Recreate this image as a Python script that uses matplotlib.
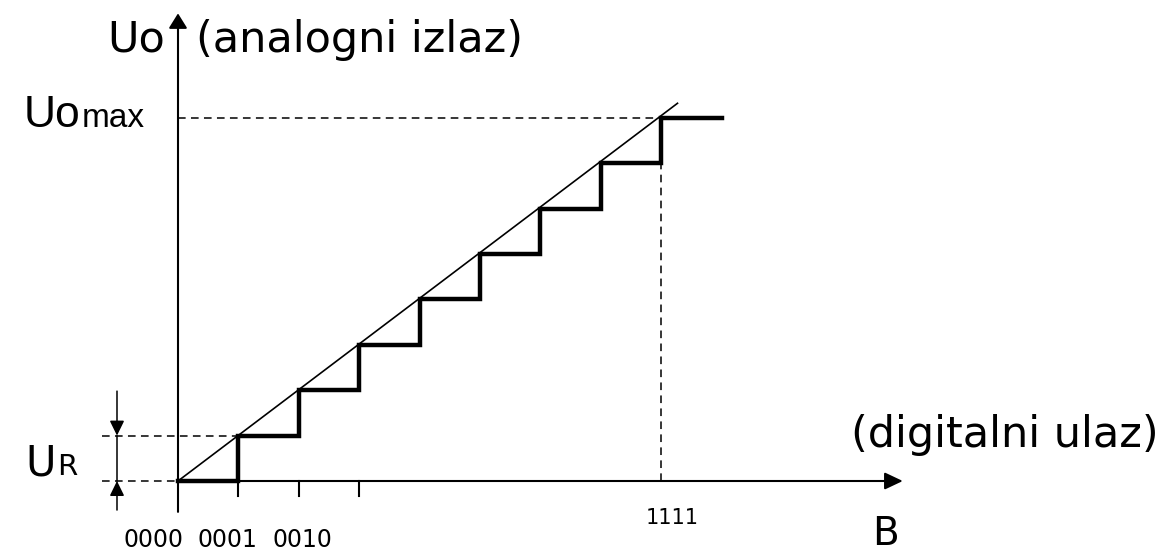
import numpy as np
import matplotlib
matplotlib.use("Agg")
import matplotlib.pyplot as plt

# --- data ---
levels = [0, 1, 2, 3, 4, 5, 6, 7, 8]          # output level per step
tick_steps = [1, 2, 3]                        # small ticks on the B axis
code_labels = ["0000", "0001", "0010"]
last_code = "1111"
last_step = 8
ideal_end = [8.27, 8.32]                      # end of the ideal (thin) line

# pixel -> data mapping of the original drawing
X0, DX = 178, 60.4
Y0, DY = 481, 45.4
W, H = 1164, 552

fig = plt.figure(figsize=(W / 100, H / 100), dpi=100)
ax = fig.add_axes([0, 0, 1, 1])
ax.set_xlim(-X0 / DX, (W - X0) / DX)
ax.set_ylim((Y0 - H) / DY, Y0 / DY)
ax.axis("off")

k = "black"
dash = (0, (5, 3.5))

# axes with arrows
ax.annotate("", xy=(12.0, 0), xytext=(0, 0),
            arrowprops=dict(arrowstyle="-|>,head_length=0.55,head_width=0.26",
                            mutation_scale=20, lw=1.5, color=k, shrinkA=0, shrinkB=0))
ax.annotate("", xy=(0, 10.3), xytext=(0, -0.68),
            arrowprops=dict(arrowstyle="-|>,head_length=0.45,head_width=0.28",
                            mutation_scale=20, lw=1.5, color=k, shrinkA=0, shrinkB=0))
for t in tick_steps:
    ax.plot([t, t], [0, -0.33], color=k, lw=1.5)

# dashed helper lines
ax.plot([0, last_step], [levels[-1], levels[-1]], color=k, lw=1.1, ls=dash)
ax.plot([last_step, last_step], [0, levels[-2]], color=k, lw=1.1, ls=dash)
ax.plot([-1.26, 1], [levels[1], levels[1]], color=k, lw=1.1, ls=dash)
ax.plot([-1.26, 0], [levels[0], levels[0]], color=k, lw=1.1, ls=dash)

# U_R dimension
xd = -1.01
ax.plot([xd, xd], [levels[0], levels[1]], color=k, lw=1.1)
ax.annotate("", xy=(xd, levels[1]), xytext=(xd, 1.98),
            arrowprops=dict(arrowstyle="-|>,head_length=0.45,head_width=0.22",
                            mutation_scale=20, lw=1.1, color=k, shrinkA=0, shrinkB=0))
ax.annotate("", xy=(xd, levels[0]), xytext=(xd, -0.64),
            arrowprops=dict(arrowstyle="-|>,head_length=0.45,head_width=0.22",
                            mutation_scale=20, lw=1.1, color=k, shrinkA=0, shrinkB=0))

# ideal line and staircase
ax.plot([0, ideal_end[0]], [0, ideal_end[1]], color=k, lw=1.2)
xs = np.arange(len(levels) + 1)
ys = levels + [levels[-1]]
ax.step(xs, ys, where="post", color=k, lw=3.2, solid_joinstyle="miter")

# texts
f = "DejaVu Sans"
ax.text(-0.22, 9.45, "Uo", fontsize=31, family=f, ha="right", va="baseline")
ax.text(0.3, 9.45, "(analogni izlaz)", fontsize=31, family=f, ha="left", va="baseline")
ax.text(-1.62, 7.8, "Uo", fontsize=32, family="Liberation Sans", ha="right", va="baseline")
ax.text(-1.59, 7.8, "max", fontsize=24, family="Liberation Sans", ha="left", va="baseline")
ax.text(-2.53, 0.13, "U", fontsize=30, family=f, ha="left", va="baseline")
ax.text(-2.0, 0.13, "R", fontsize=21, family=f, ha="left", va="baseline")
for i, lab in enumerate(code_labels):
    ax.text(-0.91 + i * 1.24, -1.45, lab, fontsize=17, family=f, ha="left", va="baseline")
ax.text(last_step + 0.19, -0.95, last_code, fontsize=15, family=f, ha="center", va="baseline")
ax.text(11.5, -1.4, "B", fontsize=28, family=f, ha="left", va="baseline")
ax.text(11.14, 0.75, "(digitalni ulaz)", fontsize=31, family=f, ha="left", va="baseline")

fig.savefig("out.png", dpi=100)
